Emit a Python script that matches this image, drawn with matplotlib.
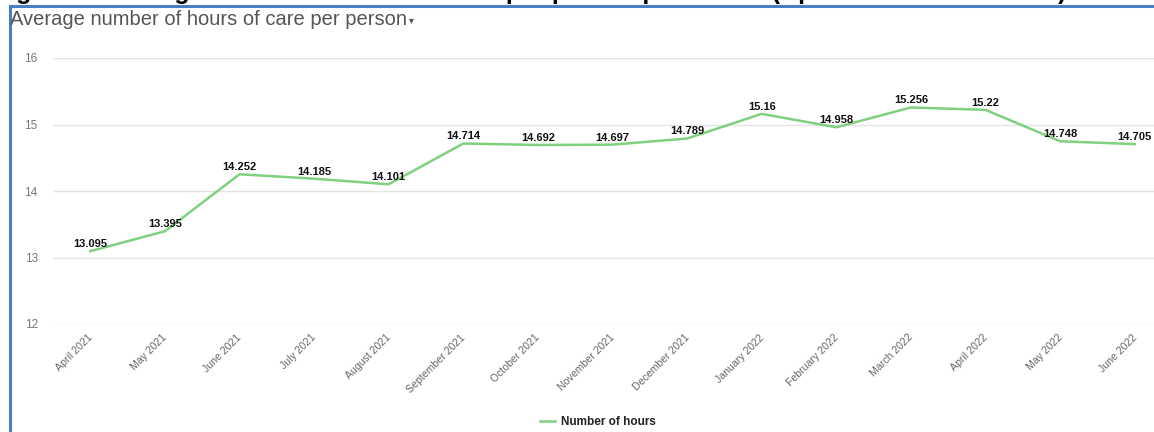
import matplotlib.pyplot as plt
import matplotlib.transforms as mtransforms
from matplotlib.patches import Rectangle

plt.rcParams['font.family'] = ['Liberation Sans', 'DejaVu Sans']

# monthly averages
months = ["April 2021", "May 2021", "June 2021", "July 2021", "August 2021",
          "September 2021", "October 2021", "November 2021", "December 2021",
          "January 2022", "February 2022", "March 2022", "April 2022",
          "May 2022", "June 2022"]
hours = [13.095, 13.395, 14.252, 14.185, 14.101, 14.714, 14.692, 14.697,
         14.789, 15.16, 14.958, 15.256, 15.22, 14.748, 14.705]
y_ticks = [12, 13, 14, 15, 16]

W, H = 1154, 432
fig = plt.figure(figsize=(W / 100, H / 100), dpi=100)

# plot area (runs a little past the right edge, like the cropped original)
left, right, top, bottom = 53, 1172, 58, 324
ax = fig.add_axes([left / W, 1 - bottom / H, (right - left) / W, (bottom - top) / H])

x = list(range(len(months)))
line_color = "#7fd07f"
ax.plot(x, hours, color=line_color, linewidth=1.8, label="Number of hours")

for xi, v in zip(x, hours):
    ax.annotate(f"{v:g}", (xi, v), xytext=(0, 1.5), textcoords="offset points",
                ha="center", va="bottom", fontsize=8, fontweight="bold",
                color="#111111")

ax.set_xlim(-0.5, len(months) - 0.5)
ax.set_ylim(12, 16)
ax.set_yticks(y_ticks)
ax.set_yticklabels([str(t) for t in y_ticks], color="#777777", fontsize=8.5)
ax.tick_params(axis="y", length=0, pad=11)
ax.set_xticks(x)
ax.set_xticklabels(months, rotation=45, ha="right", rotation_mode="anchor",
                   color="#666666", fontsize=7.6)
ax.tick_params(axis="x", length=0, pad=6)
shift = mtransforms.ScaledTranslation(-3 / 100, 0, fig.dpi_scale_trans)
for lbl in ax.get_xticklabels():
    lbl.set_transform(lbl.get_transform() + shift)

ax.grid(axis="y", color="#e4e4e4", linewidth=1)
ax.set_axisbelow(True)
for s in ax.spines.values():
    s.set_visible(False)

ax.legend(loc="center", bbox_to_anchor=((598 - left) / (right - left), -(422 - bottom) / (bottom - top)),
          frameon=False, prop={"size": 8.5, "weight": "bold"}, handlelength=1.3,
          handletextpad=0.5)
for t in ax.get_legend().get_texts():
    t.set_color("#222222")

# chart header with dropdown caret
fig.text(10 / W, 1 - 25 / H, "Average number of hours of care per person",
         fontsize=14.5, color="#555555", ha="left", va="baseline")
fig.text(409 / W, 1 - 23 / H, "\u25be", fontsize=7, color="#555555",
         ha="left", va="baseline", family="DejaVu Sans")

# blue panel border
fig.add_artist(Rectangle((9.5 / W, -0.1), 1.2, 1 - 5.5 / H + 0.1,
                         transform=fig.transFigure, fill=False,
                         edgecolor="#4a7ec4", linewidth=2.2))

# caption line above the panel, clipped by the top of the page
fig.text(1066 / W, 1 + 1 / H,
         "Figure 4: Average number of hours of care per person per month (April 2021 to June 2022)",
         fontsize=18, fontweight="bold", color="black", ha="right", va="baseline")

fig.savefig("out.png", dpi=100)
